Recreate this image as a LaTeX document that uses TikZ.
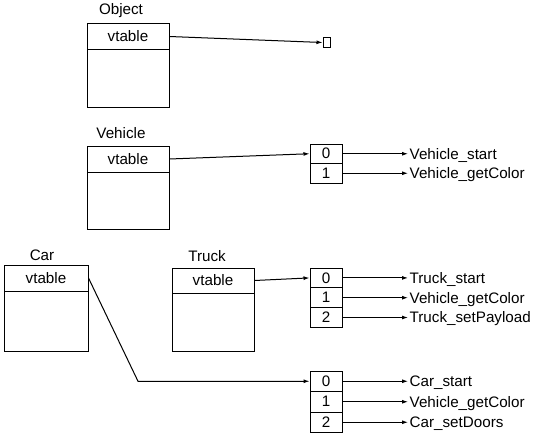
\documentclass[tikz,border=0pt]{standalone}
\usepackage{fontspec}
\setmainfont{Liberation Sans}
\usetikzlibrary{arrows.meta}
\begin{document}
\begin{tikzpicture}[x=1pt,y=-1pt,
  every node/.style={font=\fontsize{15.2}{18}\selectfont},
  box/.style={draw, line width=1pt, inner sep=0pt, minimum width=82pt},
  cell/.style={draw, line width=1pt, inner sep=0pt, minimum width=32pt},
  lbl/.style={inner sep=0pt},
  fn/.style={inner sep=1.5pt, anchor=base west},
  arr/.style={line width=1pt, -{Latex[length=6pt,width=4pt]}}
]
\useasboundingbox (0,0) rectangle (534,436);

% Object
\node[lbl] (objl) at (121,11) {Object};
\node[box, minimum height=25pt] (objv) at (128,36.5) {vtable};
\node[box, minimum height=58pt] (objb) at (128,78) {};
\node[draw, line width=1pt, inner sep=0pt, minimum width=7pt, minimum height=9pt] (sq) at (326.5,42.5) {};
\draw[arr] (objv.east) -- (sq.west);

% Vehicle
\node[lbl] (vehl) at (121,133) {Vehicle};
\node[box, minimum height=26pt] (vehv) at (128,159) {vtable};
\node[box, minimum height=57pt] (vehb) at (128,200.5) {};
\node[cell, minimum height=19.5pt] (v0) at (326,153.75) {0};
\node[cell, minimum height=19.5pt] (v1) at (326,173.25) {1};
\draw[arr] (vehv.east) -- (v0.west);
\node[fn] (v0f) at (408,159.2) {Vehicle\_start};
\node[fn] (v1f) at (408,178.7) {Vehicle\_getColor};
\draw[arr] (v0.east) -- (v0.east -| v0f.west);
\draw[arr] (v1.east) -- (v1.east -| v1f.west);

% Car
\node[lbl] (carl) at (42,255) {Car};
\node[box, minimum width=84pt, minimum height=26pt] (carv) at (46,278) {vtable};
\node[box, minimum width=84pt, minimum height=60pt] (carb) at (46,321) {};

% Truck
\node[lbl] (trkl) at (207,256) {Truck};
\node[box, minimum height=25pt] (trkv) at (213,280.5) {vtable};
\node[box, minimum height=58pt] (trkb) at (213,322) {};
\node[cell, minimum height=19.8pt] (t0) at (326,277.9) {0};
\node[cell, minimum height=19.8pt] (t1) at (326,297.7) {1};
\node[cell, minimum height=19.8pt] (t2) at (326,317.5) {2};
\draw[arr] (trkv.east) -- (t0.west);
\node[fn] (t0f) at (408,283.3) {Truck\_start};
\node[fn] (t1f) at (408,303.1) {Vehicle\_getColor};
\node[fn] (t2f) at (408,322.9) {Truck\_setPayload};
\draw[arr] (t0.east) -- (t0.east -| t0f.west);
\draw[arr] (t1.east) -- (t1.east -| t1f.west);
\draw[arr] (t2.east) -- (t2.east -| t2f.west);

% Car vtable
\node[cell, minimum height=20.5pt] (c0) at (326,381.25) {0};
\node[cell, minimum height=20.5pt] (c1) at (326,401.75) {1};
\node[cell, minimum height=20.5pt] (c2) at (326,422.25) {2};
\coordinate (bend) at (138,381.25);
\draw[arr] (carv.east) -- (bend) -- (c0.west);
\node[fn] (c0f) at (408,386.7) {Car\_start};
\node[fn] (c1f) at (408,407.2) {Vehicle\_getColor};
\node[fn] (c2f) at (408,427.7) {Car\_setDoors};
\draw[arr] (c0.east) -- (c0.east -| c0f.west);
\draw[arr] (c1.east) -- (c1.east -| c1f.west);
\draw[arr] (c2.east) -- (c2.east -| c2f.west);
\end{tikzpicture}
\end{document}
